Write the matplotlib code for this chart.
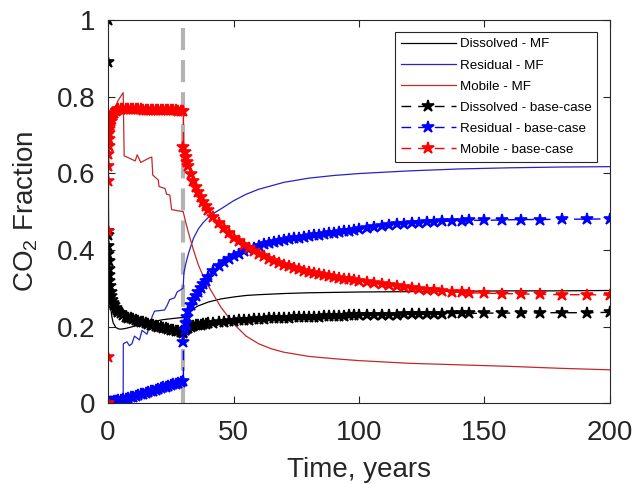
import numpy as np
import matplotlib.pyplot as plt

plt.rcParams.update({
    "font.family": ["Liberation Sans", "DejaVu Sans"],
    "mathtext.default": "regular",
    "xtick.direction": "in",
    "ytick.direction": "in",
    "xtick.top": True,
    "ytick.right": True,
    "axes.linewidth": 0.8,
    "axes.edgecolor": "#262626",
    "xtick.color": "#262626",
    "ytick.color": "#262626",
    "xtick.labelcolor": "#262626",
    "ytick.labelcolor": "#262626",
})

# ---- multi-fidelity (MF) results, solid lines ----
t_diss_mf = [0, 0.1, 0.3, 0.6, 1, 1.5, 2, 3, 4, 5, 7, 10, 14, 18, 22, 26, 30,
             31, 32, 34, 36, 40, 45, 50, 55, 60, 70, 80, 90, 100, 120, 140,
             160, 180, 200]
diss_mf = [1.0, 0.55, 0.38, 0.3, 0.25, 0.225, 0.21, 0.198, 0.194, 0.193,
           0.195, 0.2, 0.207, 0.213, 0.218, 0.221, 0.224, 0.232, 0.238,
           0.247, 0.254, 0.264, 0.272, 0.277, 0.281, 0.283, 0.286, 0.288,
           0.289, 0.29, 0.291, 0.292, 0.293, 0.293, 0.294]

t_res_mf = [0, 6.0, 6.05, 7.5, 8.5, 9.5, 10.5, 11.5, 12.5, 13.5, 14.5, 15.5,
            16.5, 17.5, 18.5, 22.5, 23.5, 24.5, 26.5, 27.5, 29.9, 30.2, 31,
            32, 34, 36, 38, 40, 42, 45, 50, 55, 60, 70, 80, 90, 100, 120, 140,
            160, 180, 200]
res_mf = [0, 0, 0.155, 0.16, 0.15, 0.155, 0.175, 0.17, 0.165, 0.19, 0.185,
          0.18, 0.2, 0.225, 0.24, 0.243, 0.255, 0.27, 0.275, 0.29, 0.3, 0.34,
          0.365, 0.39, 0.43, 0.455, 0.472, 0.485, 0.495, 0.507, 0.528, 0.545,
          0.558, 0.576, 0.587, 0.594, 0.599, 0.606, 0.611, 0.614, 0.616, 0.617]

t_mob_mf = [0, 0.05, 0.2, 0.5, 1, 2, 3, 4, 5, 6.0, 6.4, 6.8, 10.8, 11.6, 13.0,
            16.5, 17.4, 17.8, 20.0, 20.3, 22.7, 23.3, 24.6, 25.3, 29.5, 29.9,
            31, 32, 34, 36, 38, 40, 42, 45, 50, 55, 60, 65, 70, 80, 90, 100,
            120, 140, 160, 180, 200]
mob_mf = [0, 0.4, 0.62, 0.7, 0.74, 0.76, 0.775, 0.79, 0.8, 0.81, 0.645, 0.644,
          0.632, 0.648, 0.628, 0.64, 0.642, 0.595, 0.582, 0.565, 0.56, 0.545,
          0.543, 0.505, 0.5, 0.5, 0.47, 0.445, 0.4, 0.36, 0.33, 0.305, 0.283,
          0.25, 0.207, 0.175, 0.155, 0.142, 0.133, 0.122, 0.116, 0.111, 0.104,
          0.1, 0.096, 0.091, 0.087]

# ---- base-case results, dashed lines with star markers ----
t_base = [0, 0.01, 0.03, 0.06, 0.1, 0.15, 0.2, 0.3, 0.4, 0.5, 0.7, 1, 1.3,
          1.6, 2, 2.5, 3, 3.5, 4, 5, 6, 7, 8, 9, 10, 11, 12, 13, 14, 15, 16,
          17, 18, 19, 20, 21, 22, 23, 24, 25, 26, 27, 28, 29, 30,
          30.01, 30.5, 31, 31.5, 32, 33, 34, 35, 36, 37, 38, 39, 40, 42, 44,
          46, 48, 50, 52, 54, 56, 58, 60, 62, 64, 66, 68, 70, 72, 74, 76, 78,
          80, 82, 84, 86, 88, 90, 92, 94, 96, 98, 100, 103, 106, 109, 112,
          115, 118, 121, 124, 127, 130, 133, 137, 141, 144, 150, 157, 164.5,
          172, 181, 191, 200]
diss_base = [1.0, 0.89, 0.45, 0.44, 0.41, 0.39, 0.37, 0.35, 0.335, 0.32,
             0.305, 0.29, 0.28, 0.27, 0.262, 0.255, 0.248, 0.243, 0.239,
             0.234, 0.23, 0.226, 0.223, 0.221, 0.219, 0.217, 0.215, 0.213,
             0.211, 0.209, 0.207, 0.205, 0.203, 0.201, 0.2, 0.198, 0.197,
             0.195, 0.194, 0.192, 0.19, 0.189, 0.187, 0.185, 0.183,
             0.185, 0.19, 0.193, 0.195, 0.197, 0.199, 0.201, 0.203, 0.204,
             0.205, 0.206, 0.207, 0.208, 0.21, 0.211, 0.212, 0.214, 0.215,
             0.216, 0.217, 0.218, 0.219, 0.22, 0.22, 0.221, 0.222, 0.222,
             0.223, 0.223, 0.224, 0.224, 0.225, 0.225, 0.226, 0.226, 0.227,
             0.227, 0.228, 0.228, 0.228, 0.229, 0.229, 0.229, 0.23, 0.23,
             0.231, 0.231, 0.231, 0.232, 0.232, 0.232, 0.233, 0.233, 0.233,
             0.234, 0.234, 0.234, 0.235, 0.235, 0.235, 0.236, 0.236, 0.236,
             0.237]
res_base = [0, 0, 0, 0, 0, 0, 0.001, 0.001, 0.001, 0.002, 0.002, 0.003,
            0.003, 0.004, 0.004, 0.005, 0.006, 0.006, 0.007, 0.008, 0.01,
            0.011, 0.013, 0.015, 0.017, 0.019, 0.021, 0.023, 0.025, 0.027,
            0.029, 0.031, 0.033, 0.035, 0.037, 0.039, 0.041, 0.043, 0.045,
            0.047, 0.049, 0.051, 0.053, 0.055, 0.057,
            0.16, 0.19, 0.21, 0.225, 0.24, 0.255, 0.268, 0.279, 0.29, 0.30,
            0.31, 0.32, 0.33, 0.345, 0.357, 0.367, 0.376, 0.383, 0.39, 0.396,
            0.401, 0.406, 0.41, 0.414, 0.417, 0.42, 0.423, 0.426, 0.428, 0.43,
            0.432, 0.434, 0.436, 0.438, 0.44, 0.442, 0.443, 0.445, 0.447,
            0.449, 0.45, 0.452, 0.454, 0.457, 0.46, 0.463, 0.465, 0.467,
            0.468, 0.47, 0.471, 0.472, 0.473, 0.474, 0.475, 0.476, 0.477,
            0.477, 0.478, 0.479, 0.479, 0.48, 0.48, 0.481]
mob_base = [0, 0.12, 0.45, 0.58, 0.62, 0.65, 0.67, 0.69, 0.705, 0.715, 0.725,
            0.735, 0.742, 0.748, 0.753, 0.758, 0.762, 0.765, 0.767, 0.768,
            0.768, 0.768, 0.768, 0.768, 0.767, 0.767, 0.767, 0.767, 0.766,
            0.766, 0.766, 0.766, 0.765, 0.765, 0.765, 0.765, 0.765, 0.764,
            0.764, 0.764, 0.764, 0.764, 0.763, 0.763, 0.763,
            0.669, 0.655, 0.642, 0.63, 0.619, 0.598, 0.58, 0.564, 0.55, 0.537,
            0.525, 0.514, 0.504, 0.486, 0.47, 0.456, 0.443, 0.432, 0.422,
            0.413, 0.405, 0.397, 0.39, 0.383, 0.377, 0.371, 0.366, 0.361,
            0.357, 0.353, 0.349, 0.346, 0.343, 0.34, 0.337, 0.334, 0.332,
            0.33, 0.327, 0.325, 0.323, 0.321, 0.319, 0.316, 0.313, 0.31,
            0.307, 0.305, 0.302, 0.3, 0.298, 0.296, 0.294, 0.292, 0.29, 0.289,
            0.288, 0.287, 0.286, 0.285, 0.284, 0.283, 0.283, 0.282]

injection_end = 30
xticks = [0, 50, 100, 150, 200]
yticks = [0, 0.2, 0.4, 0.6, 0.8, 1]
yticklabels = ["0", "0.2", "0.4", "0.6", "0.8", "1"]

fig = plt.figure(figsize=(6.36, 4.84), dpi=100)
ax = fig.add_axes([0.170, 0.167, 0.789, 0.792])

ax.axvline(injection_end, color="#b3b3b3", lw=3, dashes=(5.3, 2.4), zorder=1)

ax.plot(t_diss_mf, diss_mf, color="k", lw=0.9, label="Dissolved - MF")
ax.plot(t_res_mf, res_mf, color="#2424c8", lw=0.9, label="Residual - MF")
ax.plot(t_mob_mf, mob_mf, color="#c42828", lw=0.9, label="Mobile - MF")

base_style = dict(marker="*", lw=1, ms=9, mew=1.2, dashes=(7, 5))
ax.plot(t_base, diss_base, color="k", label="Dissolved - base-case",
        **base_style)
ax.plot(t_base, res_base, color="#0000ff", label="Residual - base-case",
        **base_style)
ax.plot(t_base, mob_base, color="#ff0000", label="Mobile - base-case",
        **base_style)

ax.set_xlim(0, 200)
ax.set_ylim(0, 1)
ax.set_xticks(xticks)
ax.set_yticks(yticks)
ax.set_yticklabels(yticklabels)
ax.tick_params(labelsize=20, length=5, width=0.8, pad=9)
ax.tick_params(axis="x", pad=12)
ax.set_xlabel("Time, years", fontsize=20, color="#262626", labelpad=8)
ax.set_ylabel("CO$_2$ Fraction", fontsize=20, color="#262626", labelpad=12)

leg = ax.legend(loc="upper right", bbox_to_anchor=(0.975, 0.968),
                fontsize=9.6, numpoints=1, handlelength=4.1,
                labelspacing=0.66, handletextpad=0.3, borderpad=0.45,
                borderaxespad=0, fancybox=False, framealpha=1,
                edgecolor="#262626")
leg.get_frame().set_linewidth(0.8)

fig.savefig("out.png", dpi=100)
